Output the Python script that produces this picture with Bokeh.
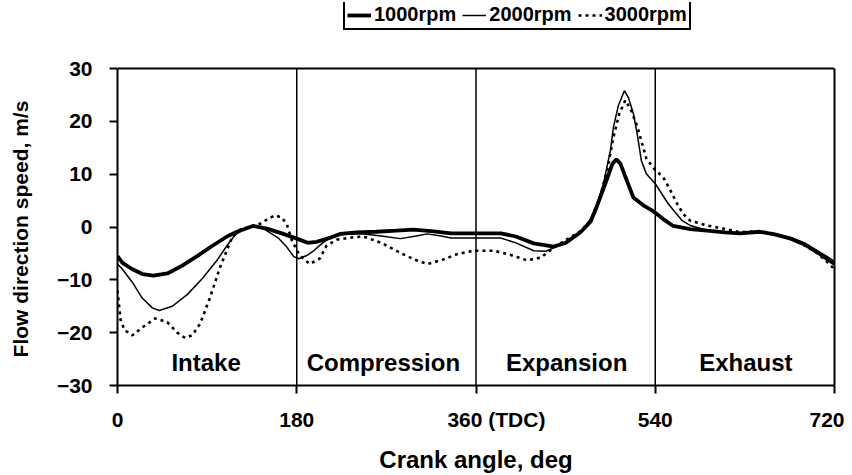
from bokeh.plotting import figure
from bokeh.models import Legend, LegendItem, Span, ColumnDataSource, FixedTicker, LinearAxis
from bokeh.core.properties import value
from bokeh.embed import file_html
from bokeh.resources import INLINE

# ---- data ----
ang_1000 = [0, 5, 15, 25, 36, 50, 65, 80, 95, 110, 120, 136, 150, 165, 180, 191, 200, 214, 224,
            240, 260, 280, 297, 315, 335, 360, 385, 400, 418, 438, 450, 465, 475, 481, 491, 497,
            501, 505, 510, 518, 528, 538, 548, 558, 575, 592, 610, 625, 645, 660, 676, 690, 703,
            712, 720]
spd_1000 = [-5.5, -6.8, -8.0, -8.9, -9.2, -8.8, -7.3, -5.5, -3.6, -1.8, -0.9, 0.2, -0.3, -1.2,
            -2.2, -3.0, -2.8, -2.0, -1.3, -1.0, -0.9, -0.7, -0.5, -0.8, -1.2, -1.2, -1.2, -1.8,
            -3.1, -3.7, -3.0, -1.0, 1.0, 3.7, 8.8, 12.0, 12.8, 12.0, 9.5, 5.6, 4.1, 3.0, 1.5,
            0.2, -0.4, -0.7, -1.0, -1.2, -0.9, -1.4, -2.2, -3.3, -4.8, -6.0, -7.0]

ang_2000 = [0, 5, 15, 25, 35, 42, 55, 70, 85, 100, 110, 118, 128, 136, 148, 161, 170, 177, 182,
            190, 197, 206, 214, 224, 245, 265, 284, 300, 311, 325, 335, 360, 385, 400, 418, 430,
            440, 455, 465, 475, 482, 488, 495, 498, 503, 509, 513, 518, 522, 526, 531, 540, 553,
            567, 575, 592, 610, 625, 645, 660, 676, 690, 703, 712, 720]
spd_2000 = [-7.0, -8.0, -10.5, -13.5, -15.3, -15.8, -15.0, -12.8, -9.8, -6.3, -3.5, -1.5, -0.3,
            0.2, -0.5, -2.0, -3.8, -5.6, -6.0, -5.4, -4.5, -3.0, -2.0, -1.4, -1.3, -1.7, -2.2,
            -1.7, -1.3, -1.7, -2.1, -2.1, -2.1, -3.0, -4.5, -4.6, -3.8, -2.5, -1.0, 1.5, 4.5,
            8.2, 14.5, 18.9, 23.0, 25.8, 24.5, 21.5, 17.5, 12.6, 10.1, 8.2, 4.4, 1.2, 0.3, -0.6,
            -1.0, -1.3, -0.9, -1.3, -2.0, -3.0, -4.5, -5.5, -6.5]

ang_3000 = [0, 3, 7, 15, 25, 38, 50, 60, 68, 75, 83, 93, 103, 115, 123, 132, 143, 150, 158, 165,
            170, 175, 183, 193, 203, 210, 220, 235, 247, 265, 285, 300, 311, 325, 340, 357, 378,
            395, 411, 425, 438, 450, 465, 475, 485, 492, 498, 504, 510, 516, 522, 531, 539, 548,
            555, 562, 568, 575, 592, 608, 625, 645, 660, 676, 690, 703, 712, 720]
spd_3000 = [-12.0, -17.5, -19.5, -20.5, -19.0, -17.3, -18.0, -20.0, -21.0, -20.5, -18.3, -13.3,
            -7.6, -2.0, -0.5, 0.0, 0.6, 1.4, 2.2, 1.8, 0.5, -2.5, -5.4, -7.0, -6.0, -3.5, -2.4,
            -2.0, -1.8, -3.0, -5.0, -6.3, -7.0, -6.3, -5.2, -4.5, -4.5, -5.3, -6.3, -5.8, -3.9,
            -2.5, -0.8, 1.2, 6.0, 11.0, 17.0, 21.5, 24.0, 22.0, 19.0, 13.0, 11.0, 9.4, 7.0, 4.4,
            2.5, 1.2, 0.3, -0.3, -1.0, -0.8, -1.3, -2.2, -3.5, -5.0, -6.5, -8.0]

x_ticks = [0, 180, 360, 540, 720]
x_tick_text = {360: "\u2007\u2007\u2007\u2008360 (TDC)"}
y_ticks = [-30, -20, -10, 0, 10, 20, 30]
y_min, y_max = -30, 30
phase_bounds = [180, 360, 540]
phase_names = ["Intake", "Compression", "Expansion", "Exhaust"]
phase_mid = [89, 267, 451, 631]
phase_y = [-25.6, -25.6, -25.6, -25.6]

FONT = "Liberation Sans"
PX_PER_UNIT = 317 / 60.0
TOP_EXTRA = 66 / PX_PER_UNIT   # room above the data box for the legend

p = figure(width=844, height=475, frame_width=717, frame_height=383,
           x_range=(0, 720), y_range=(y_min, y_max + TOP_EXTRA),
           output_backend="svg", toolbar_location=None,
           min_border_left=117, min_border_right=10, min_border_top=2, min_border_bottom=90)

p.grid.visible = False
p.outline_line_color = None
p.background_fill_color = "white"
p.border_fill_color = "white"

for ax in (p.xaxis[0], p.yaxis[0]):
    ax.axis_line_width = 2
    ax.major_tick_line_width = 2
    ax.major_tick_out = 8
    ax.major_tick_in = 0
    ax.minor_tick_out = 0
    ax.minor_tick_in = 0
    ax.major_label_text_font = FONT
    ax.major_label_text_font_style = "bold"
    ax.major_label_text_font_size = "21px"
    ax.major_label_text_color = "black"
    ax.axis_label_text_font = FONT
    ax.axis_label_text_font_style = "bold"
    ax.axis_label_text_color = "black"

p.yaxis.bounds = (y_min, y_max)
p.xaxis.axis_label_text_font_size = "24px"
p.yaxis.axis_label_text_font_size = "21px"
p.xaxis.ticker = FixedTicker(ticks=x_ticks)
p.xaxis.major_label_overrides = x_tick_text
p.yaxis.ticker = FixedTicker(ticks=y_ticks)
p.xaxis.axis_label = "Crank angle, deg"
# trailing figure spaces keep the title centred on the -30..30 box, not on the taller frame
p.yaxis.axis_label = "Flow direction speed, m/s" + "\u2007" * 6
p.xaxis.major_label_standoff = 14
p.yaxis.major_label_standoff = 17
p.xaxis.axis_label_standoff = 12
p.yaxis.axis_label_standoff = 22

# right border of the data box
rax = LinearAxis(bounds=(y_min, y_max), ticker=FixedTicker(ticks=[]), axis_line_width=2,
                 major_tick_out=0, major_tick_in=0, minor_tick_out=0, minor_tick_in=0,
                 major_label_standoff=0, major_label_text_font_size="0px")
p.add_layout(rax, "right")
# top border of the data box
p.add_layout(Span(location=y_max, dimension="width", line_color="black", line_width=2))

# phase boundaries
p.segment(x0=phase_bounds, y0=[y_min] * len(phase_bounds), x1=phase_bounds,
          y1=[y_max] * len(phase_bounds), line_color="black", line_width=1.5)

r1 = p.line(ang_1000, spd_1000, line_color="black", line_width=3.8)
r2 = p.line(ang_2000, spd_2000, line_color="black", line_width=1.5)
r3 = p.line(ang_3000, spd_3000, line_color="black", line_width=2.6, line_dash="3 4")

src = ColumnDataSource(dict(x=phase_mid, y=phase_y, t=phase_names))
p.text(x="x", y="y", text="t", source=src, text_align="center", text_baseline="middle",
       text_font=value(FONT), text_font_style="bold", text_font_size="24px", text_color="black")

legend = Legend(items=[LegendItem(label="1000rpm", renderers=[r1]),
                       LegendItem(label="2000rpm", renderers=[r2]),
                       LegendItem(label="3000rpm", renderers=[r3])],
                orientation="horizontal", location=(226, 355),
                label_text_font=FONT, label_text_font_style="bold", label_text_font_size="20px",
                label_text_color="black",
                border_line_color="black", border_line_width=2, border_line_alpha=1,
                glyph_width=24, glyph_height=18, label_standoff=3, spacing=6, padding=2, margin=0,
                label_height=18, background_fill_alpha=1)
p.add_layout(legend, "center")

open("out.html", "w").write(file_html(p, INLINE))
